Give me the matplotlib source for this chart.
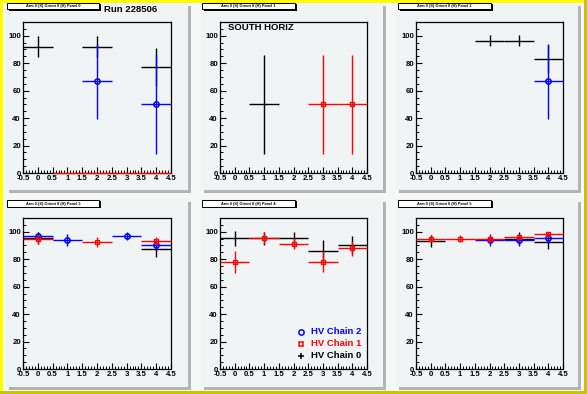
import matplotlib
matplotlib.use("Agg")
import matplotlib.pyplot as plt
from matplotlib.patches import Rectangle
from matplotlib.ticker import MultipleLocator, FuncFormatter
from matplotlib.lines import Line2D

plt.rcParams['font.family'] = ['Liberation Sans', 'DejaVu Sans']

W, H = 587, 394

# ---------------- data ----------------
pad_titles = ["Arm 0 (S) Orient 0 (H) Panel 0", "Arm 0 (S) Orient 0 (H) Panel 1",
              "Arm 0 (S) Orient 0 (H) Panel 2", "Arm 0 (S) Orient 0 (H) Panel 3",
              "Arm 0 (S) Orient 0 (H) Panel 4", "Arm 0 (S) Orient 0 (H) Panel 5"]

# HV Chain 0 (black)
c0_x = [[0, 2, 4], [1], [2, 3, 4], [0, 4], [0, 1, 2, 3, 4], [0, 3, 4]]
c0_y = [[92.0, 92.0, 77.3], [50.0], [96.5, 96.5, 83.0], [95.4, 87.6],
        [95.1, 95.1, 95.1, 86.1, 90.5], [93.4, 95.0, 92.7]]
c0_e = [[7.5, 7.5, 13.7], [36.0], [4.0, 4.0, 10.0], [4.5, 6.3],
        [5.3, 5.0, 5.0, 7.6, 6.6], [4.5, 5.0, 5.5]]

# HV Chain 1 (red)
c1_x = [[1, 2, 3, 4], [3, 4], [], [0, 2, 4], [0, 1, 2, 3, 4], [0, 1, 2, 3, 4]]
c1_y = [[0.0, 0.0, 0.0, 0.0], [50.0, 50.0], [], [94.4, 92.5, 93.2],
        [78.0, 95.6, 91.2, 78.0, 87.8], [94.9, 94.9, 94.9, 96.1, 98.5]]
c1_e = [[0.0, 0.0, 0.0, 0.0], [36.0, 36.0], [], [3.0, 3.3, 3.0],
        [7.8, 4.4, 4.0, 7.6, 5.7], [2.5, 2.5, 2.5, 2.0, 1.5]]

# HV Chain 2 (blue)
c2_x = [[2, 4], [], [4], [0, 1, 3, 4], [], [2, 3, 4]]
c2_y = [[66.7, 50.0], [], [66.7], [96.6, 94.0, 96.8, 90.3], [], [94.1, 94.1, 95.6]]
c2_e = [[27.0, 36.0], [], [27.0], [3.0, 4.3, 3.0, 3.5], [], [4.3, 4.3, 3.6]]

legend_labels = ["HV Chain 2", "HV Chain 1", "HV Chain 0"]
x_range = (-0.5, 4.5)
y_range = (0, 110)

# ---------------- layout ----------------
fig = plt.figure(figsize=(W / 100, H / 100), dpi=100)
fig.patch.set_facecolor('#c4c400')


def rect_px(x0, y0, x1, y1, **kw):
    r = Rectangle((x0 / W, 1 - y1 / H), (x1 - x0) / W, (y1 - y0) / H,
                  transform=fig.transFigure, **kw)
    fig.add_artist(r)
    return r


def fx(x):
    return x / W


def fy(y):
    return 1 - y / H


# canvas bevel + background
rect_px(0, 0, 584, 391, facecolor='#ffff00', edgecolor='none', zorder=-5)
rect_px(3, 3, 584, 391, facecolor='#f6f8f8', edgecolor='none', zorder=-4)

pad_cols = [(6, 188), (201, 383), (396, 578)]
pad_rows = [(3, 190), (199, 387)]
ax_cols = [(23, 171), (220, 367), (416, 563)]
ax_rows = [(22, 173), (218, 369)]
tb_cols = [(7, 99), (202, 295), (398, 491)]
tb_rows = [(3, 9), (200, 207)]

PADC = '#f0f4f4'
SHADOW = '#b4b4b4'

for r in range(2):
    for c in range(3):
        px0, px1 = pad_cols[c]
        py0, py1 = pad_rows[r]
        rect_px(px0 + 3, py0 + 3, px1 + 3, py1 + 3, facecolor=SHADOW, edgecolor='none', zorder=-3)
        rect_px(px0, py0, px1, py1, facecolor=PADC, edgecolor='none', zorder=-2)


def fmt_x(v, pos):
    return ('%g' % v)


axes = []
for i in range(6):
    r, c = divmod(i, 3)
    x0, x1 = ax_cols[c]
    y0, y1 = ax_rows[r]
    ax = fig.add_axes([x0 / W, 1 - y1 / H, (x1 - x0) / W, (y1 - y0) / H])
    ax.set_facecolor(PADC)
    ax.set_xlim(*x_range)
    ax.set_ylim(*y_range)
    for s in ax.spines.values():
        s.set_linewidth(0.9)
        s.set_color('black')
    ax.xaxis.set_major_locator(MultipleLocator(0.5))
    ax.xaxis.set_minor_locator(MultipleLocator(0.1))
    ax.yaxis.set_major_locator(MultipleLocator(20))
    ax.yaxis.set_minor_locator(MultipleLocator(5))
    ax.xaxis.set_major_formatter(FuncFormatter(fmt_x))
    ax.set_yticks([0, 20, 40, 60, 80, 100])
    ax.tick_params(which='major', direction='in', length=4.5, width=0.8,
                   top=False, right=False, labelsize=5.6, pad=1.5)
    ax.tick_params(which='minor', direction='in', length=2.2, width=0.7,
                   top=False, right=False)
    for lab in ax.get_xticklabels() + ax.get_yticklabels():
        lab.set_fontweight('bold')

    # chain 0 black: only error bars
    if c0_x[i]:
        eb = ax.errorbar(c0_x[i], c0_y[i], xerr=0.5, yerr=c0_e[i], fmt='none',
                         ecolor='black', elinewidth=1.0, capsize=0, zorder=3)
        for a in eb.lines[2]:
            a.set_clip_on(False)
    if c2_x[i]:
        eb = ax.errorbar(c2_x[i], c2_y[i], xerr=0.5, yerr=c2_e[i], fmt='o',
                         color='#0000ff', mfc='none', mec='#0000ff', ms=3.8, mew=1.1,
                         elinewidth=1.0, capsize=0, zorder=4)
        for a in eb.lines[2]:
            a.set_clip_on(False)
    if c1_x[i]:
        eb = ax.errorbar(c1_x[i], c1_y[i], xerr=0.5, yerr=c1_e[i], fmt='s',
                         color='#ff0000', mfc='none', mec='#ff0000', ms=2.8, mew=1.0,
                         elinewidth=1.0, capsize=0, zorder=5)
        for a in eb.lines[2]:
            a.set_clip_on(False)
        if i == 0:
            eb.lines[0].set_visible(False)
    axes.append(ax)

    # title box
    tx0, tx1 = tb_cols[c]
    ty0, ty1 = tb_rows[r]
    rect_px(tx0 + 1.5, ty0 + 1.5, tx1 + 1.5, ty1 + 1.5, facecolor='black', edgecolor='none', zorder=2)
    rect_px(tx0, ty0, tx1, ty1, facecolor='white', edgecolor='black', linewidth=0.7, zorder=2.1)
    fig.text(fx((tx0 + tx1) / 2), fy((ty0 + ty1) / 2 + 0.3), pad_titles[i], fontsize=2.8,
             fontweight='bold', ha='center', va='center', zorder=3)

# texts
fig.text(fx(131), fy(9), "Run 228506", fontsize=6.8, fontweight='bold',
         ha='center', va='center')
fig.text(fx(228), fy(28), "SOUTH HORIZ", fontsize=6.8, fontweight='bold',
         ha='left', va='center')

# legend in panel 4
leg_y = [332, 344, 356]
leg_colors = ['#0000ff', '#ff0000', 'black']
leg_markers = ['o', 's', '+']
for lbl, yy, col, mk in zip(legend_labels, leg_y, leg_colors, leg_markers):
    fig.add_artist(Line2D([fx(301)], [fy(yy)], marker=mk, color=col,
                          mfc='none', mec=col, ms=3.8 if mk != 's' else 2.8,
                          mew=1.1, linestyle='none', transform=fig.transFigure))
    fig.text(fx(311), fy(yy), lbl, fontsize=6.8, fontweight='bold', color=col,
             ha='left', va='center')

fig.savefig('out.png', dpi=100, facecolor=fig.get_facecolor())
